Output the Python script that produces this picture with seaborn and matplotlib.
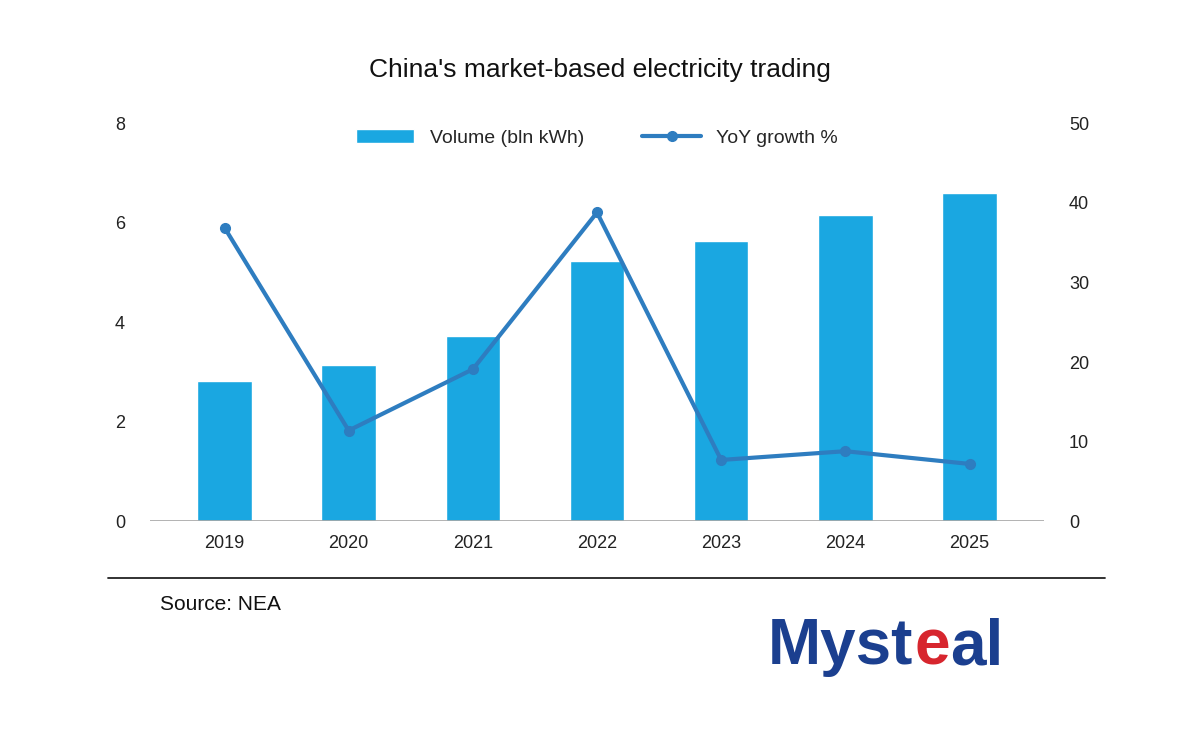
import matplotlib
matplotlib.use("Agg")
import matplotlib.pyplot as plt
import seaborn as sns
import pandas as pd

years = ["2019", "2020", "2021", "2022", "2023", "2024", "2025"]
volume = [2.81, 3.14, 3.72, 5.23, 5.63, 6.15, 6.59]
growth = [36.9, 11.4, 19.1, 38.8, 7.7, 8.8, 7.2]

sns.set_theme(style="white")
plt.rcParams['font.family'] = ['Liberation Sans', 'DejaVu Sans']

df = pd.DataFrame({"year": years, "volume": volume, "growth": growth})
fig = plt.figure(figsize=(12, 7.3), dpi=100)
ax = fig.add_axes([0.125, 0.286, 0.745, 0.545])
sns.barplot(data=df, x="year", y="volume", color="#1aa7e1", width=0.44, ax=ax, saturation=1, label="Volume (bln kWh)")
ax2 = ax.twinx()
ax2.plot(range(len(years)), growth, color="#2e7dc0", lw=3, marker="o", ms=7, label="YoY growth %")
ax.set_ylim(0, 8); ax.set_yticks(range(0, 9, 2))
ax2.set_ylim(0, 50); ax2.set_yticks(range(0, 51, 10))
ax.set_xlim(-0.6, 6.6)
for a in (ax, ax2):
    for s in ["top", "left", "right", "bottom"]:
        a.spines[s].set_visible(False)
    a.tick_params(length=0, labelsize=13, colors="#222222")
ax.axhline(0, color="#a6a6a6", lw=1.2, zorder=5)
ax.set_xlabel(""); ax.set_ylabel(""); ax2.set_ylabel("")
ax.tick_params(axis="y", pad=18)
ax2.tick_params(axis="y", pad=18)
ax.tick_params(axis="x", pad=10)
h1, l1 = ax.get_legend_handles_labels()
h2, l2 = ax2.get_legend_handles_labels()
ax.legend(h1 + h2, l1 + l2, loc="upper center", ncol=2, frameon=False, fontsize=14,
          bbox_to_anchor=(0.5, 1.03), columnspacing=3, handlelength=3)
fig.text(0.5, 0.895, "China's market-based electricity trading", ha="center", fontsize=19, color="#111111")
fig.add_artist(plt.Line2D([0.09, 0.921], [0.208, 0.208], color="#222222", lw=1.3))
fig.text(0.133, 0.165, "Source: NEA", fontsize=15, color="#111111")
fig.text(0.64, 0.09, "Myst", fontsize=46, fontweight="bold", color="#1b3f8f")
fig.text(0.762, 0.09, "e", fontsize=46, fontweight="bold", color="#d7262e")
fig.text(0.792, 0.09, "al", fontsize=46, fontweight="bold", color="#1b3f8f")
fig.savefig("out.png")
